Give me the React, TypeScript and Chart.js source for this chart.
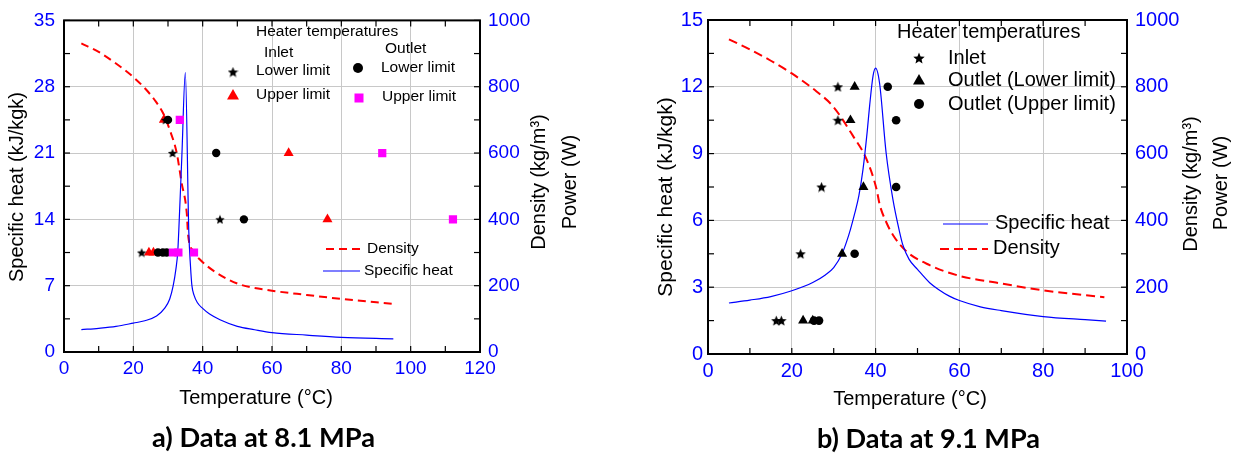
import React, { useEffect, useRef } from 'react';
import { Chart, registerables } from 'chart.js';

Chart.register(...registerables);

const SANS = '"Liberation Sans", Arial, Helvetica, sans-serif';
const TITLE_FONT = 'Lato, "Open Sans", sans-serif';
const BLUE = '#0000FF';
const RED = '#FF0000';
const MAGENTA = '#FF00FF';
const BLACK = '#000000';
const GRID = '#C8C8C8';
const H = 455;

// ---------------- Panel a) 8.1 MPa ----------------
const cpTempA = [5, 10, 15, 20, 23.3, 26.7, 29, 30.5, 31.5, 32.3, 32.8, 33.1, 34, 35, 36, 36.5, 36.9, 37.5, 38.5, 40, 42, 45, 50, 55, 60, 70, 80, 95];
const cpValA = [2.36, 2.5, 2.7, 3.05, 3.3, 3.8, 4.6, 5.6, 7.0, 8.8, 10.5, 12.7, 20.7, 29.5, 12.7, 9.0, 7.0, 6.0, 5.2, 4.6, 4.0, 3.4, 2.7, 2.35, 2.05, 1.78, 1.55, 1.39];
const rhoTempA = [5, 10, 15, 20, 23.8, 26.5, 28.6, 30.5, 32.5, 33.9, 35.4, 35.8, 37.3, 39.2, 44, 50.7, 60, 70, 80, 95];
const rhoValA = [931, 905, 870, 829, 790, 755, 720, 670, 601, 512, 420, 353, 304, 279, 239, 204, 185, 172, 160, 145];

const inletLowTA = [22.4, 31.3, 29.3, 45];
const inletLowPA = [300, 600, 700, 400];
const inletUpTA = [24.5, 25.8, 28.8, 64.8, 76];
const inletUpPA = [300, 300, 700, 600, 400];
const outletLowTA = [27.1, 28.5, 29.6, 30.0, 43.9, 51.9];
const outletLowPA = [300, 300, 300, 700, 600, 400];
const outletUpTA = [31.4, 33.0, 37.5, 33.4, 91.8, 112.2];
const outletUpPA = [300, 300, 300, 700, 600, 400];

const xTicksA = [0, 20, 40, 60, 80, 100, 120];
const yTicksA = [0, 7, 14, 21, 28, 35];

// ---------------- Panel b) 9.1 MPa ----------------
const cpTempB = [5, 10, 15, 20, 25, 28, 30, 32, 33, 34, 35, 36, 37, 38, 38.6, 39.4, 40, 40.95, 42.5, 44.1, 45.7, 46.5, 48, 50, 52.9, 55, 57.6, 60, 65, 70, 80, 90, 95];
const cpValB = [2.29, 2.42, 2.58, 2.84, 3.21, 3.55, 3.88, 4.5, 5.0, 5.6, 6.3, 7.1, 8.3, 10.0, 11.2, 12.5, 12.84, 12.16, 9.05, 6.98, 5.5, 4.9, 4.25, 3.8, 3.2, 2.9, 2.6, 2.4, 2.12, 1.95, 1.68, 1.54, 1.48];
const rhoTempB = [5, 10, 15, 20, 25.9, 29.8, 34.6, 37.8, 40.2, 41, 42.5, 44.1, 47.3, 52.9, 60, 68.7, 79.8, 94.6];
const rhoValB = [942, 912, 878, 840, 786, 742, 653, 584, 495, 446, 396, 357, 308, 266, 234, 214, 191, 170];

const inletTB = [31.0, 31.0, 27.1, 22.1, 16.3, 17.5];
const inletPB = [800, 700, 500, 300, 100, 100];
const outLowTB = [35.0, 34.0, 37.1, 32.0, 22.7, 25.0];
const outLowPB = [800, 700, 500, 300, 100, 100];
const outUpTB = [42.9, 44.9, 44.9, 35.0, 25.3, 26.5];
const outUpPB = [800, 700, 500, 300, 100, 100];

const xTicksB = [0, 20, 40, 60, 80, 100];
const yTicksB = [0, 3, 6, 9, 12, 15];
const y2Ticks = [0, 200, 400, 600, 800, 1000];

// ---------------- Texts ----------------
const titleA = 'a) Data at 8.1 MPa';
const titleB = 'b) Data at 9.1 MPa';
const xTitle = 'Temperature (°C)';
const yTitle = 'Specific heat (kJ/kgk)';
const densTitle = 'Density (kg/m³)';
const powTitle = 'Power (W)';
const legHeader = 'Heater temperatures';
const legInlet = 'Inlet';
const legOutlet = 'Outlet';
const legLower = 'Lower limit';
const legUpper = 'Upper limit';
const legOutLower = 'Outlet (Lower limit)';
const legOutUpper = 'Outlet (Upper limit)';
const legCp = 'Specific heat';
const legRho = 'Density';

const pts = (xs: number[], ys: number[]) => xs.map((x, i) => ({ x, y: ys[i] }));

function makeStar(size: number, color: string) {
  const c = document.createElement('canvas');
  c.width = size;
  c.height = size;
  const g = c.getContext('2d')!;
  const R = size / 2;
  const r = R * 0.45;
  const cx = size / 2;
  const cy = size / 2 + R * 0.095;
  g.beginPath();
  for (let i = 0; i < 10; i++) {
    const a = -Math.PI / 2 + (i * Math.PI) / 5;
    const rr = i % 2 ? r : R;
    const px = cx + rr * Math.cos(a);
    const py = cy + rr * Math.sin(a);
    if (i === 0) g.moveTo(px, py);
    else g.lineTo(px, py);
  }
  g.closePath();
  g.fillStyle = color;
  g.fill();
  return c;
}

type Txt = { text: string; x: number; y: number; size: number; rot?: number; align?: CanvasTextAlign; bold?: boolean; family?: string; fit?: number };
type Sym = { kind: 'star' | 'triangle' | 'circle' | 'rect' | 'line'; x: number; y: number; size: number; color: string; x2?: number; dash?: number[]; width?: number };

function makeDecor(d: { xMinor: number; yMinor: number; y2Minor: number; tick: number; texts: Txt[]; syms: Sym[] }) {
  return {
    id: 'decor',
    afterDraw(chart: any) {
      const ctx: CanvasRenderingContext2D = chart.ctx;
      const { left, right, top, bottom } = chart.chartArea;
      const sx = chart.scales.x;
      const sy = chart.scales.y;
      const s2 = chart.scales.y2;
      ctx.save();
      ctx.strokeStyle = BLACK;
      ctx.lineWidth = 1.2;
      ctx.setLineDash([]);
      const seg = (a: number, b: number, c: number, e: number) => {
        ctx.beginPath();
        ctx.moveTo(a, b);
        ctx.lineTo(c, e);
        ctx.stroke();
      };
      const each = (s: any, step: number, fn: (p: number) => void) => {
        const n = Math.round((s.max - s.min) / step);
        for (let i = 0; i <= n; i++) fn(s.getPixelForValue(s.min + i * step));
      };
      each(sx, d.xMinor, (px) => {
        seg(px, bottom, px, bottom - d.tick);
        seg(px, top, px, top + d.tick);
      });
      each(sy, d.yMinor, (py) => seg(left, py, left + d.tick, py));
      each(s2, d.y2Minor, (py) => seg(right, py, right - d.tick, py));
      ctx.lineWidth = 2;
      ctx.strokeRect(left, top, right - left, bottom - top);

      for (const s of d.syms) {
        ctx.save();
        ctx.fillStyle = s.color;
        ctx.strokeStyle = s.color;
        if (s.kind === 'line') {
          ctx.lineWidth = s.width || 1.2;
          ctx.setLineDash(s.dash || []);
          seg(s.x, s.y, s.x2 || s.x, s.y);
        } else if (s.kind === 'star') {
          const img = makeStar(s.size, s.color);
          ctx.drawImage(img, s.x - s.size / 2, s.y - s.size / 2);
        } else if (s.kind === 'circle') {
          ctx.beginPath();
          ctx.arc(s.x, s.y, s.size, 0, Math.PI * 2);
          ctx.fill();
        } else if (s.kind === 'rect') {
          ctx.fillRect(s.x - s.size / 2, s.y - s.size / 2, s.size, s.size);
        } else if (s.kind === 'triangle') {
          const r = s.size;
          ctx.beginPath();
          ctx.moveTo(s.x, s.y - r);
          ctx.lineTo(s.x + r * Math.sin((2 * Math.PI) / 3), s.y - r * Math.cos((2 * Math.PI) / 3));
          ctx.lineTo(s.x + r * Math.sin((4 * Math.PI) / 3), s.y - r * Math.cos((4 * Math.PI) / 3));
          ctx.closePath();
          ctx.fill();
        }
        ctx.restore();
      }

      for (const t of d.texts) {
        ctx.save();
        ctx.translate(t.x, t.y);
        if (t.rot) ctx.rotate((t.rot * Math.PI) / 180);
        ctx.font = `${t.bold ? 'bold ' : ''}${t.size}px ${t.family || SANS}`;
        ctx.fillStyle = BLACK;
        ctx.textAlign = t.align || 'center';
        ctx.textBaseline = 'middle';
        if (t.fit) {
          const w = ctx.measureText(t.text).width;
          ctx.scale(t.fit / w, 1);
        }
        ctx.fillText(t.text, 0, 0);
        ctx.restore();
      }
      ctx.restore();
    },
  };
}

type PanelCfg = {
  xMax: number;
  yMax: number;
  xTicks: number[];
  yTicks: number[];
  tickSize: number;
  xH: number;
  yW: number;
  y2W: number;
  yPad: number;
  y2Pad: number;
  datasets: any[];
  decor: ReturnType<typeof makeDecor>;
};

const plain = (v: any) => String(v);

function buildConfig(p: PanelCfg): any {
  const tickFont = { family: SANS, size: p.tickSize };
  return {
    type: 'scatter',
    data: { datasets: p.datasets },
    options: {
      responsive: false,
      animation: false,
      events: [],
      layout: { padding: { top: 16, left: 0, right: 0, bottom: 0 } },
      plugins: { legend: { display: false }, tooltip: { enabled: false }, title: { display: false } },
      scales: {
        x: {
          type: 'linear',
          position: 'bottom',
          min: 0,
          max: p.xMax,
          afterBuildTicks: (s: any) => {
            s.ticks = p.xTicks.map((v) => ({ value: v }));
          },
          afterFit: (s: any) => {
            s.height = p.xH;
          },
          ticks: { color: BLUE, font: tickFont, padding: 5, maxRotation: 0, autoSkip: false, callback: plain },
          grid: { color: GRID, drawTicks: false, lineWidth: 1 },
          border: { display: false },
        },
        y: {
          type: 'linear',
          position: 'left',
          min: 0,
          max: p.yMax,
          afterBuildTicks: (s: any) => {
            s.ticks = p.yTicks.map((v) => ({ value: v }));
          },
          afterFit: (s: any) => {
            s.width = p.yW;
          },
          ticks: { color: BLUE, font: tickFont, padding: p.yPad, autoSkip: false, callback: plain },
          grid: { color: GRID, drawTicks: false, lineWidth: 1 },
          border: { display: false },
        },
        y2: {
          type: 'linear',
          position: 'right',
          min: 0,
          max: 1000,
          afterBuildTicks: (s: any) => {
            s.ticks = y2Ticks.map((v) => ({ value: v }));
          },
          afterFit: (s: any) => {
            s.width = p.y2W;
          },
          ticks: { color: BLUE, font: tickFont, padding: p.y2Pad, autoSkip: false, callback: plain },
          grid: { display: false, drawTicks: false },
          border: { display: false },
        },
      },
    },
    plugins: [p.decor],
  };
}

function lineDs(data: any[], color: string, axis: string, width: number, dash: number[]) {
  return {
    data,
    yAxisID: axis,
    showLine: true,
    borderColor: color,
    borderWidth: width,
    borderDash: dash,
    pointRadius: 0,
    cubicInterpolationMode: 'monotone',
    fill: false,
    order: 10,
  };
}

function markDs(data: any[], style: any, radius: number, color: string, order: number) {
  return {
    data,
    yAxisID: 'y2',
    pointStyle: style,
    pointRadius: radius,
    backgroundColor: color,
    borderColor: color,
    borderWidth: 0,
    order,
  };
}

function panelA(): PanelCfg {
  const star = makeStar(10, BLACK);
  return {
    xMax: 120,
    yMax: 35,
    xTicks: xTicksA,
    yTicks: yTicksA,
    tickSize: 19,
    xH: 103,
    yW: 64,
    y2W: 140,
    yPad: 9,
    y2Pad: 8,
    datasets: [
      markDs(pts(outletUpTA, outletUpPA), 'rect', 5.8, MAGENTA, 1),
      markDs(pts(outletLowTA, outletLowPA), 'circle', 4.2, BLACK, 2),
      markDs(pts(inletLowTA, inletLowPA), star, 5, BLACK, 3),
      markDs(pts(inletUpTA, inletUpPA), 'triangle', 5.8, RED, 4),
      lineDs(pts(cpTempA, cpValA), BLUE, 'y', 1.2, []),
      lineDs(pts(rhoTempA, rhoValA), RED, 'y2', 2, [8, 5]),
    ],
    decor: makeDecor({
      xMinor: 10,
      yMinor: 3.5,
      y2Minor: 100,
      tick: 6,
      texts: [
        { text: yTitle, x: 17, y: 187, size: 20, rot: -90 },
        { text: densTitle, x: 539, y: 182, size: 20, rot: -90 },
        { text: powTitle, x: 570, y: 182, size: 20, rot: -90 },
        { text: xTitle, x: 256, y: 398, size: 20 },
        { text: legHeader, x: 256, y: 32, size: 15.5, align: 'left' },
        { text: legInlet, x: 264, y: 52.5, size: 15.5, align: 'left' },
        { text: legLower, x: 256, y: 71, size: 15.5, align: 'left' },
        { text: legUpper, x: 256, y: 95, size: 15.5, align: 'left' },
        { text: legOutlet, x: 385, y: 49, size: 15.5, align: 'left' },
        { text: legLower, x: 381, y: 68, size: 15.5, align: 'left' },
        { text: legUpper, x: 382, y: 97, size: 15.5, align: 'left' },
        { text: legRho, x: 367, y: 249, size: 15.5, align: 'left' },
        { text: legCp, x: 364, y: 271, size: 15.5, align: 'left' },
        { text: titleA, x: 263.5, y: 438, size: 27, bold: true, family: TITLE_FONT, fit: 223 },
      ],
      syms: [
        { kind: 'star', x: 233, y: 72, size: 11, color: BLACK },
        { kind: 'triangle', x: 233, y: 96, size: 6.9, color: RED },
        { kind: 'circle', x: 358, y: 68, size: 5, color: BLACK },
        { kind: 'rect', x: 359, y: 98, size: 9, color: MAGENTA },
        { kind: 'line', x: 326, x2: 363, y: 249, size: 0, color: RED, dash: [8, 5], width: 2 },
        { kind: 'line', x: 323, x2: 360, y: 271, size: 0, color: BLUE, width: 1.2 },
      ],
    }),
  };
}

function panelB(): PanelCfg {
  const star = makeStar(11, BLACK);
  return {
    xMax: 100,
    yMax: 15,
    xTicks: xTicksB,
    yTicks: yTicksB,
    tickSize: 20,
    xH: 101,
    yW: 88,
    y2W: 112,
    yPad: 5,
    y2Pad: 8,
    datasets: [
      markDs(pts(outUpTB, outUpPB), 'circle', 4.3, BLACK, 1),
      markDs(pts(outLowTB, outLowPB), 'triangle', 5.8, BLACK, 2),
      markDs(pts(inletTB, inletPB), star, 5.5, BLACK, 3),
      lineDs(pts(cpTempB, cpValB), BLUE, 'y', 1.2, []),
      lineDs(pts(rhoTempB, rhoValB), RED, 'y2', 2, [9, 5]),
    ],
    decor: makeDecor({
      xMinor: 10,
      yMinor: 1.5,
      y2Minor: 100,
      tick: 6,
      texts: [
        { text: yTitle, x: 46, y: 197, size: 21, rot: -90 },
        { text: densTitle, x: 571, y: 184, size: 20, rot: -90 },
        { text: powTitle, x: 601, y: 183, size: 20, rot: -90 },
        { text: xTitle, x: 290, y: 399, size: 20 },
        { text: legHeader, x: 277, y: 32.5, size: 20, align: 'left' },
        { text: legInlet, x: 328, y: 58.5, size: 20, align: 'left' },
        { text: legOutLower, x: 328, y: 80, size: 20, align: 'left' },
        { text: legOutUpper, x: 328, y: 104.5, size: 20, align: 'left' },
        { text: legCp, x: 375, y: 223.5, size: 20, align: 'left' },
        { text: legRho, x: 373, y: 248.5, size: 20, align: 'left' },
        { text: titleB, x: 308.5, y: 439, size: 27, bold: true, family: TITLE_FONT, fit: 223 },
      ],
      syms: [
        { kind: 'star', x: 299, y: 58, size: 12, color: BLACK },
        { kind: 'triangle', x: 299, y: 81, size: 6.9, color: BLACK },
        { kind: 'circle', x: 299, y: 104, size: 5, color: BLACK },
        { kind: 'line', x: 323, x2: 368, y: 224, size: 0, color: BLUE, width: 1.2 },
        { kind: 'line', x: 320, x2: 368, y: 249, size: 0, color: RED, dash: [9, 5], width: 2 },
      ],
    }),
  };
}

function Panel({ make, left, width }: { make: () => PanelCfg; left: number; width: number }) {
  const ref = useRef<HTMLCanvasElement>(null);
  useEffect(() => {
    const chart = new Chart(ref.current!, buildConfig(make()));
    return () => chart.destroy();
  }, [make]);
  return (
    <canvas
      ref={ref}
      width={width}
      height={H}
      style={{ position: 'absolute', left, top: 0, width, height: H, display: 'block' }}
    />
  );
}

export default function App() {
  return (
    <div style={{ position: 'fixed', left: 0, top: 0, width: 1239, height: H, background: '#ffffff', overflow: 'hidden' }}>
      <Panel make={panelA} left={0} width={620} />
      <Panel make={panelB} left={620} width={619} />
    </div>
  );
}
